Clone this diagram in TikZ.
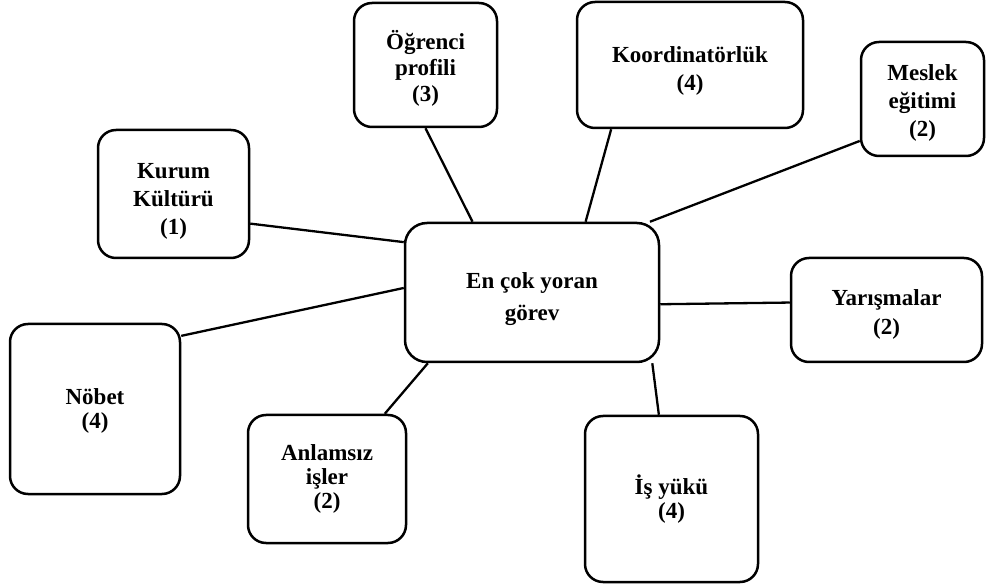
\documentclass[tikz,border=0pt]{standalone}
\usepackage{fontspec}
\setmainfont{Liberation Serif}
\usetikzlibrary{calc}
\tikzset{
  box/.style={draw, line width=2.5pt, rounded corners=18pt, inner sep=0pt},
  txt/.style={align=center, inner sep=0pt, font=\bfseries\fontsize{23}{26}\selectfont},
  link/.style={line width=2.3pt}
}
\begin{document}
\begin{tikzpicture}[x=1pt,y=-1pt]
\useasboundingbox (0,0) rectangle (986,585);
\node[box, minimum width=254pt, minimum height=139pt, rounded corners=22pt] (c) at (532,292.5) {};
\node[box, minimum width=151pt, minimum height=128pt] (kurum) at (173.5,194) {};
\node[box, minimum width=143pt, minimum height=124pt] (ogr) at (425.5,65) {};
\node[box, minimum width=226pt, minimum height=126pt] (koord) at (690,65) {};
\node[box, minimum width=123pt, minimum height=114pt] (meslek) at (922.5,99) {};
\node[box, minimum width=191pt, minimum height=104pt] (yaris) at (886.5,310) {};
\node[box, minimum width=170pt, minimum height=170pt] (nobet) at (95,409) {};
\node[box, minimum width=158pt, minimum height=128pt] (anlam) at (327,479) {};
\node[box, minimum width=173pt, minimum height=166pt] (isyuku) at (671.5,499) {};

\node[txt, font=\bfseries\fontsize{23}{32}\selectfont] (cT) at ($(c.center)+(0,6.5)$) {En çok yoran\\görev};
\node[txt, font=\bfseries\fontsize{23}{28}\selectfont] (kurumT) at ($(kurum.center)+(0,7)$) {Kurum\\Kültürü\\(1)};
\node[txt] (ogrT) at ($(ogr.center)+(0,3.5)$) {Öğrenci\\profili\\(3)};
\node[txt, font=\bfseries\fontsize{23}{28}\selectfont] (koordT) at ($(koord.center)+(0,6)$) {Koordinatörlük\\(4)};
\node[txt, font=\bfseries\fontsize{23}{28}\selectfont] (meslekT) at ($(meslek.center)+(0,3.5)$) {Meslek\\eğitimi\\(2)};
\node[txt, font=\bfseries\fontsize{23}{29}\selectfont] (yarisT) at ($(yaris.center)+(0,4)$) {Yarışmalar\\(2)};
\node[txt, font=\bfseries\fontsize{23}{24}\selectfont] (nobetT) at ($(nobet.center)+(0,1.5)$) {Nöbet\\(4)};
\node[txt, font=\bfseries\fontsize{23}{24}\selectfont] (anlamT) at (anlam.center) {Anlamsız\\işler\\(2)};
\node[txt, font=\bfseries\fontsize{23}{24}\selectfont] (isyukuT) at (isyuku.center) {İş yükü\\(4)};

\draw[link] ($(kurum.north east)!0.727!(kurum.south east)$) -- ($(c.north west)!0.144!(c.south west)$);
\draw[link] (ogr.south) -- ($(c.north west)!0.268!(c.north east)$);
\draw[link] ($(koord.south west)!0.155!(koord.south east)$) -- ($(c.north west)!0.709!(c.north east)$);
\draw[link] ($(meslek.north west)!0.86!(meslek.south west)$) -- ($(c.north west)!0.96!(c.north east)$);
\draw[link] ($(c.north east)!0.583!(c.south east)$) -- ($(yaris.north west)!0.43!(yaris.south west)$);
\draw[link] ($(nobet.north east)!0.076!(nobet.south east)$) -- ($(c.north west)!0.468!(c.south west)$);
\draw[link] ($(c.south west)!0.094!(c.south east)$) -- ($(anlam.north west)!0.86!(anlam.north east)$);
\draw[link] ($(c.south west)!0.969!(c.south east)$) -- ($(isyuku.north west)!0.428!(isyuku.north east)$);
\end{tikzpicture}
\end{document}
